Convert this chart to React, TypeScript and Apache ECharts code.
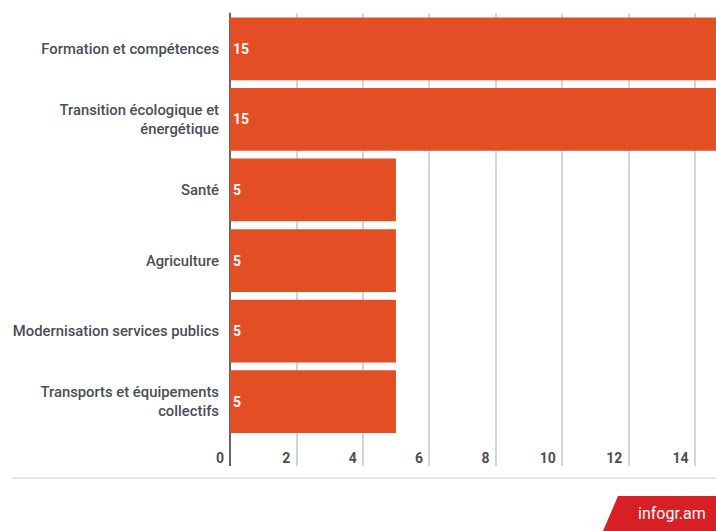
import React, { useEffect, useRef } from "react";
import * as echarts from "echarts";

const categories: string[] = [
  "Formation et compétences",
  "Transition écologique et\nénergétique",
  "Santé",
  "Agriculture",
  "Modernisation services publics",
  "Transports et équipements\ncollectifs",
];
const values: number[] = [15, 15, 5, 5, 5, 5];
const xMin = 0;
const xMax = 16;
const xInterval = 2;

const BAR = "#e34e25";
const TEXT = "#4a4e56";
const GRID = "#d4d4d4";
const FONT = "Roboto, 'Noto Sans', sans-serif";

export default function App() {
  const ref = useRef<HTMLDivElement>(null);
  useEffect(() => {
    if (!ref.current) return;
    const chart = echarts.init(ref.current, undefined, { renderer: "svg" });
    chart.setOption({
      animation: false,
      grid: {
        left: 230,
        width: 531,
        top: 13.5,
        height: 423.5,
        containLabel: false,
        outerBoundsMode: "none",
      },
      xAxis: [
        {
          type: "value",
          min: xMin,
          max: xMax,
          interval: xInterval,
          position: "bottom",
          axisLine: { show: false },
          axisTick: { show: true, length: 29, inside: false, lineStyle: { color: GRID, width: 2 } },
          splitLine: { show: true, lineStyle: { color: GRID, width: 2 } },
          axisLabel: {
            showMaxLabel: false,
            margin: 14,
            align: "right",
            padding: [0, 6, 0, 0],
            color: TEXT,
            fontSize: 14,
            fontWeight: "bold",
            fontFamily: FONT,
          },
        },
        {
          type: "value",
          min: xMin,
          max: xMax,
          interval: xMax,
          position: "bottom",
          axisLine: { show: false },
          axisTick: { show: true, length: 29, lineStyle: { color: "#666", width: 2 } },
          splitLine: { show: false },
          axisLabel: { show: false },
        },
      ],
      yAxis: {
        type: "category",
        inverse: true,
        data: categories,
        axisLine: { show: true, lineStyle: { color: "#666", width: 2 } },
        axisTick: { show: false },
        axisLabel: {
          margin: 11,
          color: TEXT,
          fontSize: 14.8,
          fontWeight: 500,
          lineHeight: 19,
          fontFamily: FONT,
          align: "right",
        },
      },
      series: [
        {
          type: "bar",
          data: values,
          barCategoryGap: "11%",
          itemStyle: { color: BAR },
          label: {
            show: true,
            position: "insideLeft",
            distance: 3,
            color: "#fff",
            fontSize: 14,
            fontWeight: "bold",
            fontFamily: FONT,
          },
        },
      ],
      graphic: [
        {
          type: "line",
          shape: { x1: 12, y1: 478, x2: 716, y2: 478 },
          style: { stroke: "#dddddd", lineWidth: 1.5 },
        },
        {
          type: "polygon",
          shape: { points: [[618, 496], [716, 496], [716, 531], [603, 531]] },
          style: { fill: "#d71f26" },
        },
        {
          type: "text",
          x: 638,
          y: 513,
          style: {
            text: "infogr.am",
            fill: "#fff",
            fontSize: 16,
            fontFamily: FONT,
            verticalAlign: "middle",
            align: "left",
          },
        },
      ],
    });
    return () => chart.dispose();
  }, []);
  return (
    <div
      ref={ref}
      style={{ position: "absolute", left: 0, top: 0, width: 716, height: 531 }}
    />
  );
}
